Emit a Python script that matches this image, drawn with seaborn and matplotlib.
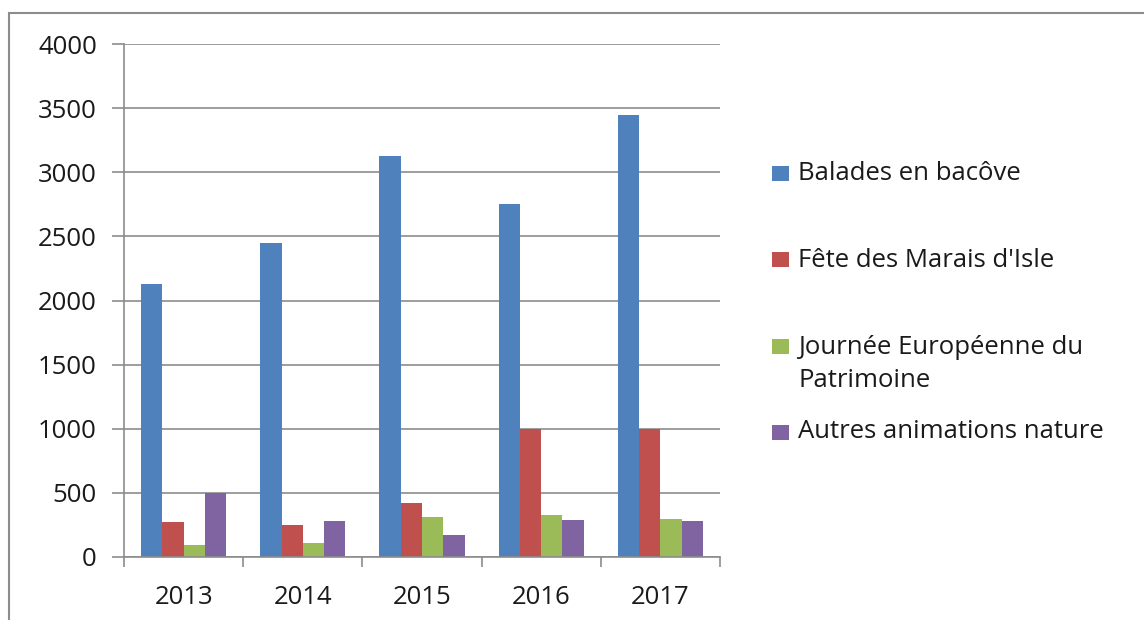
import matplotlib
matplotlib.use('Agg')
import matplotlib.pyplot as plt
import seaborn as sns
import pandas as pd
from matplotlib.patches import Rectangle

years = ['2013', '2014', '2015', '2016', '2017']
series_names = ['Balades en bacôve', "Fête des Marais d'Isle",
                'Journée Européenne du\nPatrimoine', 'Autres animations nature']
balades = [2130, 2450, 3130, 2750, 3445]
fete = [270, 250, 420, 1000, 1000]
journee = [90, 110, 310, 330, 300]
autres = [500, 280, 175, 290, 280]
colors = ['#4F81BD', '#C0504D', '#9BBB59', '#8064A2']

# long-form table for seaborn
rows = []
for name, vals in zip(series_names, [balades, fete, journee, autres]):
    for y, v in zip(years, vals):
        rows.append({'Année': y, 'Série': name, 'Valeur': v})
df = pd.DataFrame(rows)

sns.set_style('white')
plt.rcParams['font.family'] = ['Open Sans', 'DejaVu Sans']
text_color = '#1a1a1a'
grid_color = '#8c8c8c'
fs = 18.5

W, H = 1144, 620
fig = plt.figure(figsize=(W / 100, H / 100), dpi=100)
ax = fig.add_axes([124 / W, 1 - 557 / H, 596 / W, 513 / H])

sns.barplot(data=df, x='Année', y='Valeur', hue='Série', palette=colors,
            width=0.714, saturation=1, ax=ax, linewidth=0, legend=False)

ax.set_xlim(-0.5, 4.5)
ax.set_ylim(0, 4000)
ax.set_yticks(range(0, 4001, 500))
ax.set_xlabel('')
ax.set_ylabel('')

ax.yaxis.grid(True, color=grid_color, linewidth=1.2)
ax.set_axisbelow(True)
for side in ['top', 'right']:
    ax.spines[side].set_visible(False)
for side in ['left', 'bottom']:
    ax.spines[side].set_color(grid_color)
    ax.spines[side].set_linewidth(1.2)

ax.tick_params(axis='y', length=8.5, width=1.2, color=grid_color, pad=11,
               labelsize=fs, labelcolor=text_color, left=True)
ax.tick_params(axis='x', which='major', length=0, pad=20,
               labelsize=fs, labelcolor=text_color)
ax.set_xticks([i - 0.5 for i in range(6)], minor=True)
ax.tick_params(axis='x', which='minor', length=7.5, width=1.2, color=grid_color,
               bottom=True)

# legend drawn Excel-style: square swatch + label, uneven vertical spacing
legend_y = [173, 260, 364, 432]
for name, col, yc in zip(series_names, colors, legend_y):
    sq_y = yc if '\n' not in name else yc - 18
    fig.patches.append(Rectangle((772 / W, 1 - (sq_y + 7.5) / H), 17 / W, 15 / H,
                                 transform=fig.transFigure, color=col, linewidth=0))
    fig.text(798 / W, 1 - yc / H, name, fontsize=fs, color=text_color,
             va='center', ha='left', linespacing=1.4)

# outer chart-area frame
fig.patches.append(Rectangle((9 / W, -0.05), 1.2, 1 - 12.5 / H + 0.05,
                             transform=fig.transFigure, fill=False,
                             edgecolor='#8c8c8c', linewidth=1.5))

fig.savefig('out.png', dpi=100)
plt.close(fig)
